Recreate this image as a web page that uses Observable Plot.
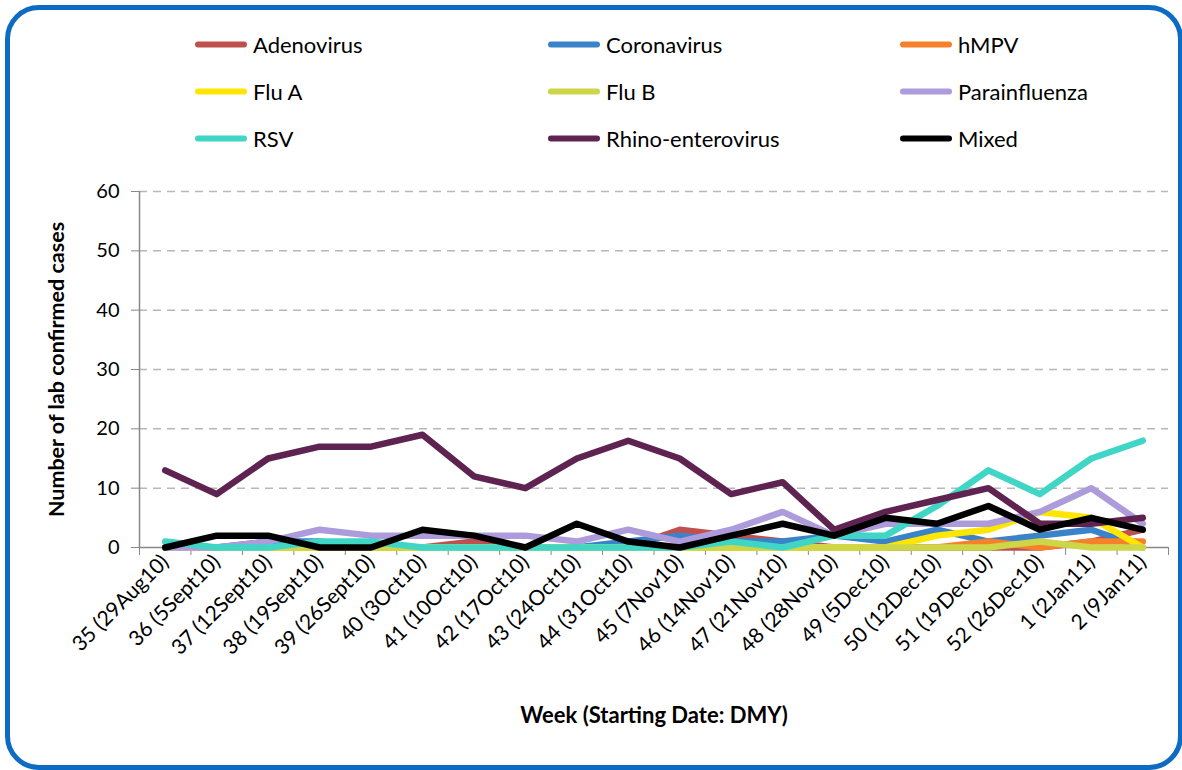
<!DOCTYPE html>
<html>
<head>
<meta charset="utf-8">
<script src="https://cdn.jsdelivr.net/npm/d3@7"></script>
<script src="https://cdn.jsdelivr.net/npm/@observablehq/plot@0.6"></script>
<style>
  html, body { margin: 0; padding: 0; background: #fff; }
  #wrap { position: relative; width: 1182px; height: 770px; overflow: hidden; font-family: Lato, "Open Sans", sans-serif; }
  #border { position: absolute; left: 5px; top: 5px; width: 1168px; height: 755px; border: 5px solid #0d6bc4; border-radius: 34px; pointer-events: none; }
  #legend { position: relative; height: 175px; }
  .item { position: absolute; display: flex; align-items: center; font-size: 22px; color: #000; transform: translateY(-50%); }
  .sw { width: 52px; height: 6px; border-radius: 3px; margin-right: 6px; }
  #chart svg { display: block; }
</style>
</head>
<body>
<div id="wrap">
  <div id="legend"></div>
  <div id="chart"></div>
  <div id="border"></div>
</div>
<script>
const weeks = ["35 (29Aug10)","36 (5Sept10)","37 (12Sept10)","38 (19Sept10)","39 (26Sept10)","40 (3Oct10)","41 (10Oct10)","42 (17Oct10)","43 (24Oct10)","44 (31Oct10)","45 (7Nov10)","46 (14Nov10)","47 (21Nov10)","48 (28Nov10)","49 (5Dec10)","50 (12Dec10)","51 (19Dec10)","52 (26Dec10)","1 (2Jan11)","2 (9Jan11)"];
const seriesNames = ["Adenovirus","Coronavirus","hMPV","Flu A","Flu B","Parainfluenza","RSV","Rhino-enterovirus","Mixed"];
const seriesColors = ["#c0504d","#3a83c9","#f5822a","#ffe600","#cdd648","#ad9bdc","#3fd6c6","#5e2350","#000000"];
const adenovirus    = [0,0,0,0,0,0,1,0,0,0,3,2,1,0,0,0,0,0,1,3];
const coronavirus   = [0,0,1,1,0,0,0,0,0,1,2,1,1,2,1,3,1,2,3,0];
const hmpv          = [0,0,0,0,0,0,0,0,0,0,0,0,0,0,0,0,1,0,1,1];
const fluA          = [0,0,0,0,0,0,0,0,0,0,0,0,0,0,0,2,3,6,5,0];
const fluB          = [0,0,0,0,0,0,0,0,0,0,0,0,0,0,0,0,0,1,0,0];
const parainfluenza = [0,0,1,3,2,2,2,2,1,3,1,3,6,2,4,4,4,6,10,4];
const rsv           = [1,0,0,1,1,0,0,0,0,0,0,1,0,2,2,7,13,9,15,18];
const rhino         = [13,9,15,17,17,19,12,10,15,18,15,9,11,3,6,8,10,4,4,5];
const mixed         = [0,2,2,0,0,3,2,0,4,1,0,2,4,2,5,4,7,3,5,3];
const yTicks = [0,10,20,30,40,50,60];

const seriesValues = [adenovirus, coronavirus, hmpv, fluA, fluB, parainfluenza, rsv, rhino, mixed];
const rows = [];
seriesNames.forEach((name, s) => seriesValues[s].forEach((v, i) => rows.push({series: name, i, value: v})));

// legend
const legend = document.getElementById("legend");
const colX = [195, 548, 900];
const rowY = [44, 91, 138];
seriesNames.forEach((name, k) => {
  const el = document.createElement("div");
  el.className = "item";
  el.style.left = colX[k % 3] + "px";
  el.style.top = rowY[Math.floor(k / 3)] + "px";
  el.innerHTML = `<span class="sw" style="background:${seriesColors[k]}"></span><span>${name}</span>`;
  legend.appendChild(el);
});

const idx = weeks.map((w, i) => i);
const bounds = d3.range(weeks.length + 1).map(i => i - 0.5);
const xDomain = [bounds[0], bounds[bounds.length - 1]];

const plot = Plot.plot({
  width: 1182,
  height: 595,
  marginLeft: 139,
  marginRight: 14,
  marginTop: 16,
  marginBottom: 223,
  style: {fontFamily: "Lato, 'Open Sans', sans-serif", background: "transparent"},
  x: {domain: xDomain},
  y: {domain: [0, 60]},
  color: {domain: seriesNames, range: seriesColors},
  marks: [
    Plot.gridY(yTicks.filter(v => v > 0), {stroke: "#b8b8b8", strokeOpacity: 1, strokeWidth: 1.5, strokeDasharray: "8,6"}),
    Plot.axisY(yTicks, {tickSize: 8, tickPadding: 12, stroke: "#888", fontSize: 20, label: null, color: "#000"}),
    Plot.axisX(bounds, {tickSize: 8, tickFormat: () => "", stroke: "#888", label: null}),
    Plot.axisX(idx, {tickSize: 0, tickPadding: 11, tickRotate: -45, tickFormat: i => weeks[i], fontSize: 21, label: null, color: "#000"}),
    Plot.ruleX([xDomain[0]], {stroke: "#888", strokeWidth: 1.5}),
    Plot.ruleY([0], {stroke: "#888", strokeWidth: 1.5}),
    Plot.line(rows, {x: "i", y: "value", z: "series", stroke: "series", strokeWidth: 6.5, strokeLinejoin: "round", strokeLinecap: "round"}),
    Plot.text(["Number of lab confirmed cases"], {frameAnchor: "left", textAnchor: "middle", dx: -82, rotate: -90, fontSize: 21.5, fontWeight: "bold", fill: "#000"}),
    Plot.text(["Week (Starting Date: DMY)"], {frameAnchor: "bottom", textAnchor: "middle", dy: 175, fontSize: 22, fontWeight: "bold", fill: "#000"})
  ]
});
document.getElementById("chart").appendChild(plot);
</script>
</body>
</html>
